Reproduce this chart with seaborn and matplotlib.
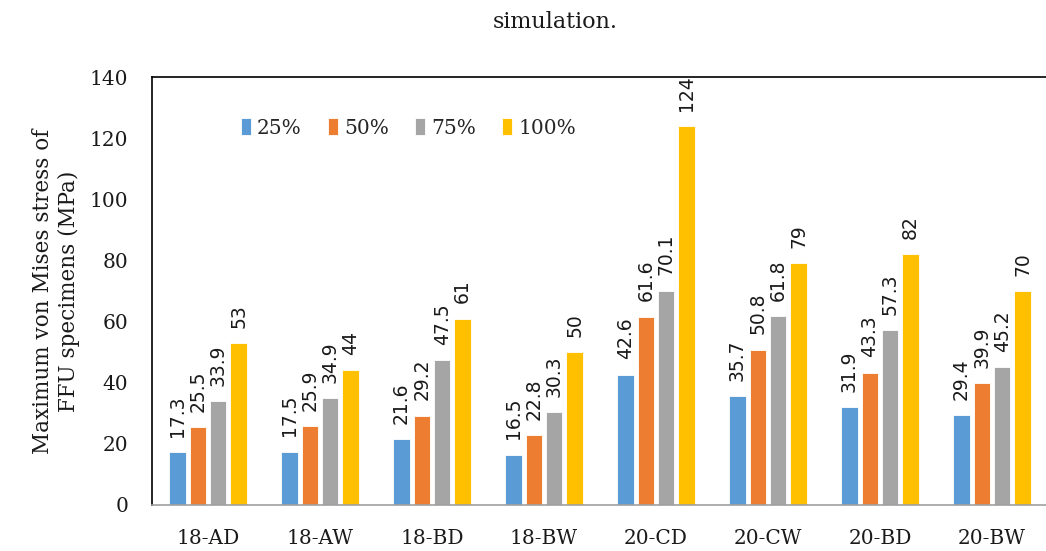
import matplotlib
matplotlib.use("Agg")
import matplotlib.pyplot as plt
import seaborn as sns
import pandas as pd

categories = ["18-AD", "18-AW", "18-BD", "18-BW", "20-CD", "20-CW", "20-BD", "20-BW"]
series_names = ["25%", "50%", "75%", "100%"]
v25 = [17.3, 17.5, 21.6, 16.5, 42.6, 35.7, 31.9, 29.4]
v50 = [25.5, 25.9, 29.2, 22.8, 61.6, 50.8, 43.3, 39.9]
v75 = [33.9, 34.9, 47.5, 30.3, 70.1, 61.8, 57.3, 45.2]
v100 = [53, 44, 61, 50, 124, 79, 82, 70]
colors = ["#5B9BD5", "#ED7D31", "#A5A5A5", "#FFC000"]

rows = []
for name, vals in zip(series_names, [v25, v50, v75, v100]):
    for c, v in zip(categories, vals):
        rows.append({"cat": c, "series": name, "value": v})
df = pd.DataFrame(rows)

sns.set_style("white")
plt.rcParams["font.family"] = ["DejaVu Serif"]

fig = plt.figure(figsize=(10.46, 5.51), dpi=100)
ax = fig.add_axes([152 / 1046, 46 / 551, 896 / 1046, 428 / 551])

sns.barplot(data=df, x="cat", y="value", hue="series", order=categories,
            hue_order=series_names, palette=colors, width=0.73, gap=0.2,
            edgecolor="white", linewidth=0.6, saturation=1, ax=ax)

for cont, vals in zip(ax.containers, [v25, v50, v75, v100]):
    ax.bar_label(cont, labels=[f"{v:g}" for v in vals], rotation=90, padding=11,
                 fontsize=13.5, family="DejaVu Sans", color="#1a1a1a")

ax.set_ylim(0, 140)
ax.set_xlim(-0.5, 7.5)
ax.set_yticks(range(0, 141, 20))
ax.tick_params(axis="y", length=0, pad=17, labelsize=14.5, colors="#1a1a1a")
ax.tick_params(axis="x", length=0, pad=17, labelsize=14.5, colors="#1a1a1a")
ax.set_xlabel("")
ax.set_ylabel("Maximum von Mises stress of\nFFU specimens (MPa)", fontsize=15.5,
              labelpad=7, linespacing=1.25, color="#1a1a1a")

for s in ["left", "top"]:
    ax.spines[s].set_color("black")
    ax.spines[s].set_linewidth(1.2)
ax.spines["right"].set_visible(False)
ax.spines["bottom"].set_color("#A0A0A0")
ax.spines["bottom"].set_linewidth(1.2)

leg = ax.legend(loc="center left", bbox_to_anchor=(0.088, 0.881), ncol=4,
                frameon=False, handlelength=0.5, handleheight=0.9,
                handletextpad=0.3, columnspacing=1.3, borderpad=0,
                prop={"family": "DejaVu Serif", "size": 14.5})

fig.text(555 / 1046, 1 - 22 / 551, "simulation.", ha="center", va="center",
         fontsize=16, family="DejaVu Serif", color="#1a1a1a")

fig.savefig("out.png", dpi=100)
